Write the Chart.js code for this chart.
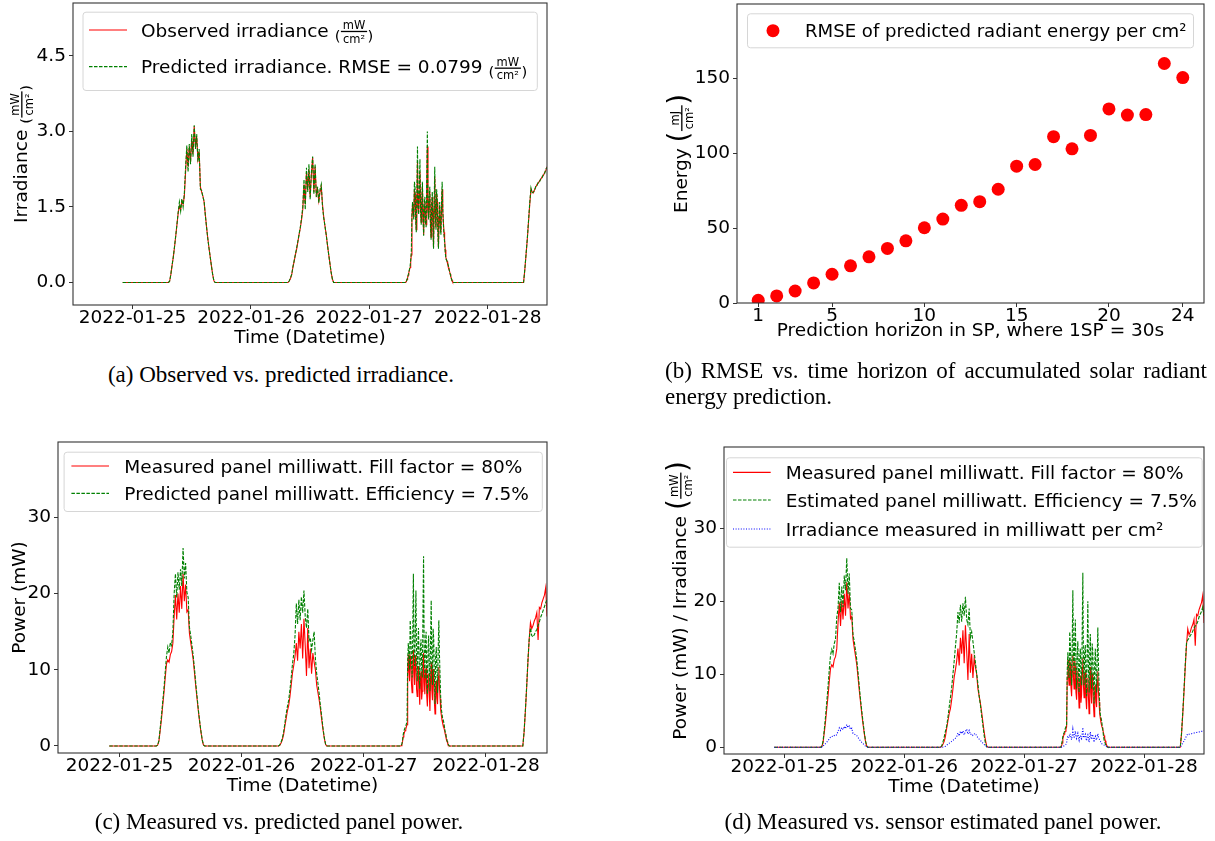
<!DOCTYPE html>
<html><head><meta charset="utf-8">
<script src="https://cdn.jsdelivr.net/npm/chart.js@4.4.1/dist/chart.umd.min.js"></script>
<style>
html,body{margin:0;padding:0;background:#fff}
body{width:1215px;height:841px;position:relative;overflow:hidden}
canvas{position:absolute;display:block}
.cap{position:absolute;font-family:'Liberation Serif','Times New Roman',serif;font-size:23px;line-height:26px;color:#000;white-space:nowrap}
.ctr{transform:translateX(-50%)}
.just{white-space:normal;text-align:justify;text-align-last:justify}
</style></head><body>
<canvas id="chartA" width="605" height="360" style="left:0;top:0"></canvas>
<canvas id="chartB" width="610" height="360" style="left:605px;top:0"></canvas>
<canvas id="chartC" width="605" height="390" style="left:0;top:420px"></canvas>
<canvas id="chartD" width="610" height="390" style="left:605px;top:420px"></canvas>
<div class="cap ctr" style="left:281px;top:362px">(a) Observed vs. predicted irradiance.</div>
<div class="cap just" style="left:665px;top:358px;width:542px">(b) RMSE vs. time horizon of accumulated solar radiant</div>
<div class="cap" style="left:665px;top:384px">energy prediction.</div>
<div class="cap ctr" style="left:279px;top:809px">(c) Measured vs. predicted panel power.</div>
<div class="cap ctr" style="left:943px;top:809px">(d) Measured vs. sensor estimated panel power.</div>
<script>
// ---------------- data ----------------
const timeTickHours = [0, 24, 48, 72];               // hours after 2022-01-25 00:00
const timeTickLabels = ['2022-01-25', '2022-01-26', '2022-01-27', '2022-01-28'];
// recorded samples: one night point, then one block per day (start hour, count, step in hours)
const segmentStartHours = [-2, 7.25, 31.25, 55.25, 79.25];
const segmentPointCounts = [1, 39, 39, 79, 20];
const segmentStepHours = [0.25, 0.25, 0.25, 0.125, 0.25];

const observedIrradiance = [0,
  0,0.02,0.15,0.33,0.5,0.7,0.92,1.15,1.38,1.52,1.45,1.62,1.55,1.72,2.2,2.65,2.3,2.7,2.4,2.85,2.55,3.1,2.7,2.9,2.45,2.6,1.9,1.8,1.72,1.6,1.35,1.1,0.88,0.68,0.5,0.32,0.15,0.03,0,
  0,0,0.03,0.08,0.15,0.3,0.42,0.55,0.66,0.8,0.95,1.08,1.25,1.45,1.95,1.55,2.2,1.85,2.25,1.7,2.15,2.48,1.8,2.3,1.75,1.85,1.62,1.8,1.9,1.55,1.3,1.12,0.95,0.75,0.56,0.38,0.2,0.07,0,
  0,0.01,0.02,0.06,0.1,0.15,0.2,0.25,0.3,0.42,0.55,1.3,1.55,1.4,1.3,1.85,1.75,1.3,1.05,1.6,2.4,1.5,1.4,1.8,2.2,1.45,1.2,1.6,1.9,1.35,
  0.95,1.5,1.6,1.25,1.15,1.9,2.7,1.45,1.3,1.65,1.8,1.2,0.9,1.5,1.7,1.25,0.7,1.45,2.1,1.35,1.1,1.75,1.6,1.1,0.7,1.3,1.5,1.15,1.0,1.5,
  1.85,1.4,1.2,1.0,0.85,0.65,0.5,0.46,0.42,0.36,0.3,0.26,0.22,0.17,0.12,0.08,0.04,0.01,0,
  0,0.25,0.55,0.85,1.2,1.55,1.85,1.8,1.78,1.85,1.9,1.95,1.98,2.02,2.05,2.1,2.12,2.18,2.22,2.3];
const predictedIrradiance = [0,
  0,0.02,0.16,0.34,0.5,0.71,0.93,1.16,1.4,1.6,1.42,1.66,1.5,1.78,2.3,2.72,2.2,2.75,2.35,2.95,2.5,3.12,2.65,2.95,2.4,2.65,1.85,1.83,1.7,1.62,1.33,1.1,0.87,0.68,0.5,0.32,0.15,0.03,0,
  0,0,0.03,0.09,0.16,0.31,0.43,0.56,0.68,0.82,0.96,1.1,1.28,1.5,2.05,1.45,2.28,1.8,2.35,1.65,2.2,2.5,1.75,2.35,1.7,1.9,1.58,1.85,1.95,1.5,1.28,1.12,0.95,0.75,0.56,0.38,0.2,0.07,0,
  0,0.01,0.02,0.06,0.1,0.15,0.21,0.26,0.32,0.45,0.6,1.35,1.6,1.45,1.25,2.0,1.9,1.3,1.0,1.7,2.7,1.5,1.35,1.9,2.45,1.4,1.15,1.65,2.0,1.3,
  0.93,1.55,1.7,1.2,1.1,2.0,3.0,1.5,1.25,1.7,1.9,1.15,0.85,1.55,1.8,1.2,0.67,1.5,2.3,1.3,1.05,1.85,1.7,1.0,0.67,1.35,1.6,1.1,0.95,1.6,
  2.0,1.45,1.15,0.95,0.8,0.6,0.47,0.45,0.42,0.38,0.34,0.28,0.22,0.17,0.12,0.08,0.04,0.01,0,
  0,0.26,0.56,0.86,1.22,1.58,1.88,1.78,1.8,1.83,1.92,1.93,2.0,2.0,2.07,2.08,2.15,2.16,2.25,2.28];
const measuredPower = [0,
  0,0.1,0.6,2.0,3.5,5.3,7.0,9.0,10.8,11.3,11.0,12.0,12.4,13.5,17.0,19.8,16.6,20.0,17.5,21.0,18.0,22.6,19.0,21.2,17.6,17.9,14.8,13.6,12.5,11.3,9.6,7.8,6.2,4.6,3.2,1.9,0.8,0.15,0,
  0,0.1,0.4,0.8,1.5,2.6,3.6,4.6,5.3,6.5,8.0,9.6,10.6,11.8,13.5,11.2,15.0,12.8,16.0,11.5,16.7,13.2,9.2,15.5,10.2,12.8,9.5,12.2,11.0,10.0,8.0,7.0,6.0,4.8,3.4,2.1,1.0,0.2,0,
  0,0.05,0.2,0.6,1.2,1.5,1.8,2.0,2.2,2.5,2.8,9.5,12.0,9.8,8.5,11.8,11.5,8.2,7.0,10.4,12.6,9.6,8.0,11.9,11.0,7.5,6.5,9.2,10.5,7.8,
  5.4,8.8,9.8,6.1,7.2,10.9,12.2,8.4,6.8,9.9,10.2,6.6,5.2,8.1,9.5,6.9,4.6,8.7,11.0,7.4,6.0,10.1,9.0,5.8,4.2,7.6,8.6,6.3,5.5,9.1,
  10.4,7.7,6.2,4.6,4.0,3.4,3.0,2.7,2.4,2.0,1.6,1.2,0.9,0.6,0.3,0.15,0.05,0,0,
  0,1.8,4.5,7.6,11.0,14.0,16.2,15.4,15.8,16.4,16.8,17.5,13.9,18.2,18.0,18.8,19.3,19.8,20.8,17.0];
const predictedPower = [0,
  0,0.1,0.7,2.3,3.9,5.8,7.6,9.8,11.8,13.0,12.2,13.6,13.2,15.0,20.0,22.6,19.5,22.8,20.5,23.2,21.0,26.0,22.0,24.0,20.2,19.5,15.6,14.5,13.2,11.8,10.1,8.2,6.5,4.8,3.3,2.0,0.9,0.15,0,
  0,0.15,0.5,1.0,1.8,3.0,4.2,5.2,6.0,7.4,9.0,10.8,12.1,14.5,18.7,16.0,19.2,16.5,19.6,17.5,20.4,17.0,15.5,18.0,13.8,14.2,12.6,13.9,15.0,11.5,9.5,8.2,6.8,5.2,3.8,2.3,1.1,0.25,0,
  0,0.1,0.3,0.8,1.5,1.9,2.2,2.4,2.6,2.9,3.2,11.0,13.5,11.8,10.0,16.5,14.5,11.2,9.0,14.8,22.6,12.4,10.5,15.2,20.4,11.6,8.5,13.4,15.5,10.8,
  7.5,12.9,14.0,10.2,9.0,16.8,24.9,12.1,8.8,13.6,15.0,9.4,6.8,12.5,14.5,10.3,7.2,13.8,19.1,11.0,8.0,15.4,14.0,9.1,5.5,11.7,13.0,9.6,7.0,12.8,
  16.5,11.9,9.0,6.1,4.8,4.2,3.6,3.4,3.0,2.4,1.9,1.5,1.1,0.7,0.4,0.2,0.05,0,0,
  0,1.9,4.7,7.8,11.2,14.0,15.5,14.5,14.3,14.6,15.0,15.3,15.8,16.3,16.9,17.3,17.8,18.3,18.8,19.2];
const estimatedPower = [0,
  0,0.1,0.8,2.4,4.2,6.2,8.3,10.6,12.6,13.4,12.8,14.2,14.8,17.8,19.0,22.5,18.5,22.0,19.2,23.5,21.5,25.9,21.0,23.8,19.0,18.8,15.4,14.5,13.3,12.0,10.3,8.4,6.6,5.0,3.5,2.1,0.9,0.15,0,
  0,0.2,0.7,1.4,2.2,2.9,4.1,5.5,6.8,8.2,10.0,11.8,13.8,15.6,18.5,17.0,19.5,17.2,19.7,18.0,20.6,17.5,16.8,19.0,15.0,15.8,14.5,13.0,11.6,10.1,8.7,7.0,5.8,4.3,3.0,1.6,0.6,0.05,0,
  0,0.1,0.4,0.9,1.5,1.8,2.0,2.3,2.6,2.8,3.0,10.5,13.0,11.2,9.5,15.8,14.0,10.9,8.5,14.2,21.5,12.0,10.0,14.6,17.5,11.1,8.0,12.7,14.5,10.4,
  7.5,12.3,13.5,9.8,8.5,15.9,23.9,11.6,8.5,13.1,14.0,9.2,7.0,13.4,20.0,10.8,7.5,12.6,15.5,10.4,8.0,14.2,13.0,8.9,6.0,11.4,13.5,9.7,7.5,12.4,
  16.4,11.3,8.5,5.6,4.5,4.0,3.7,3.0,2.4,1.6,1.0,0.7,0.5,0.25,0.1,0.03,0,0,0,
  0,1.9,4.8,8.0,11.4,14.3,14.7,14.9,15.3,15.5,15.9,16.3,16.6,16.8,17.2,17.8,18.2,18.6,19.2,18.0];

const horizons = [1,2,3,4,5,6,7,8,9,10,11,12,13,14,15,16,17,18,19,20,21,22,23,24];
const rmseEnergy = [1.8,4.7,8,13.4,19.2,24.8,30.8,36.4,41.5,50.2,56,65.2,67.6,75.9,91.3,92.4,111,102.9,111.8,129.5,125.4,125.7,159.8,150.4];
const horizonTicks = [1,5,10,15,20,24];

// time stamps of the recorded samples
const hours = [];
segmentStartHours.forEach((s, k) => { for (let i = 0; i < segmentPointCounts[k]; i++) hours.push(s + i * segmentStepHours[k]); });
const pts = arr => arr.map((v, i) => ({x: hours[i], y: v}));

// ---------------- styling helpers ----------------
const FAM = "'DejaVu Sans'";
const FS = 18.5;
Chart.defaults.font.family = FAM;
Chart.defaults.color = '#000';

function setFont(ctx, s){ ctx.font = s + 'px ' + FAM; }
function drawRich(ctx, x, baseline, parts, base, draw){
  for (const p of parts){
    if (p.t != null){
      setFont(ctx, base);
      if (draw) ctx.fillText(p.t, x, baseline);
      x += ctx.measureText(p.t).width;
    } else {
      const fs = base * 0.62;
      const bar = baseline - 0.28 * base;
      const ps = p.big ? base * 1.5 : base * 0.8;
      const pb = p.big ? bar - 0.12 * base + 0.314 * ps : baseline + 0.22 * base;
      setFont(ctx, ps);
      const pw = ctx.measureText('(').width;
      if (draw) ctx.fillText('(', x, pb);
      x += pw + 0.5;
      setFont(ctx, fs);
      const wn = ctx.measureText(p.frac[0]).width, wd = ctx.measureText(p.frac[1]).width;
      const w = Math.max(wn, wd) + 0.2 * base;
      if (draw){
        ctx.fillText(p.frac[0], x + (w - wn) / 2, bar - 0.14 * base);
        ctx.fillText(p.frac[1], x + (w - wd) / 2, bar + 0.6 * base);
        ctx.fillRect(x, bar - 0.65, w, 1.3);
      }
      x += w + 0.5;
      setFont(ctx, ps);
      if (draw) ctx.fillText(')', x, pb);
      x += pw;
    }
  }
  return x;
}

// page-space decorations per canvas
const decor = {
  chartA: { ox:0, oy:0,
    legend:{ box:[82.5,11.7,536.8,90], sx:[89,127], tx:141, rows:[
      {y:30, kind:'line', color:'#ff0000', dash:[], parts:[{t:'Observed irradiance '},{frac:['mW','cm²']}]},
      {y:66.7, kind:'line', color:'#008000', dash:[3.5,1.5], parts:[{t:'Predicted irradiance. RMSE = 0.0799 '},{frac:['mW','cm²']}]} ]},
    ytitle:{ x:27, y:154, parts:[{t:'Irradiance '},{frac:['mW','cm²']}] } },
  chartB: { ox:605, oy:0,
    legend:{ box:[747,13.3,1193,47.3], sx:[760,786], tx:805, rows:[
      {y:30.7, kind:'marker', color:'#ff0000', size:18.1, parts:[{t:'RMSE of predicted radiant energy per cm²'}]} ]},
    ytitle:{ x:687, y:153.5, parts:[{t:'Energy '},{frac:['mJ','cm²'], big:true}] } },
  chartC: { ox:0, oy:420,
    legend:{ box:[63.6,451.7,541.8,511], sx:[71.4,109], tx:124.3, rows:[
      {y:466, kind:'line', color:'#ff0000', dash:[], parts:[{t:'Measured panel milliwatt. Fill factor = 80%'}]},
      {y:493.3, kind:'line', color:'#008000', dash:[3.5,1.5], parts:[{t:'Predicted panel milliwatt. Efficiency = 7.5%'}]} ]},
    ytitle:{ x:25, y:597.5, parts:[{t:'Power (mW)'}] } },
  chartD: { ox:605, oy:420,
    legend:{ box:[726,457.3,1201.7,546.7], sx:[733,770.7], tx:785.7, rows:[
      {y:472.3, kind:'line', color:'#ff0000', dash:[], parts:[{t:'Measured panel milliwatt. Fill factor = 80%'}]},
      {y:500, kind:'line', color:'#008000', dash:[3.5,1.5], parts:[{t:'Estimated panel milliwatt. Efficiency = 7.5%'}]},
      {y:529, kind:'line', color:'#0000ff', dash:[1,1.6], parts:[{t:'Irradiance measured in milliwatt per cm²'}]} ]},
    ytitle:{ x:686, y:600.5, parts:[{t:'Power (mW) / Irradiance '},{frac:['mW','cm²'], big:true}] } }
};

const mplPlugin = {
  id: 'mplDecor',
  afterDatasetsDraw(chart){
    const a = chart.chartArea, ctx = chart.ctx;
    ctx.save();
    ctx.strokeStyle = '#333'; ctx.lineWidth = 1.1; ctx.setLineDash([]);
    ctx.strokeRect(a.left, a.top, a.right - a.left, a.bottom - a.top);
    ctx.restore();
  },
  afterDraw(chart){
    const d = decor[chart.canvas.id]; if (!d) return;
    const ctx = chart.ctx;
    ctx.save();
    ctx.translate(-d.ox, -d.oy);
    ctx.textBaseline = 'alphabetic'; ctx.textAlign = 'left';
    const L = d.legend, [l,t,r,b] = L.box;
    ctx.beginPath(); ctx.roundRect(l + 0.5, t + 0.5, r - l, b - t, 3);
    ctx.fillStyle = 'rgba(255,255,255,0.8)'; ctx.fill();
    ctx.strokeStyle = '#d6d6d6'; ctx.lineWidth = 1; ctx.stroke();
    for (const row of L.rows){
      if (row.kind === 'marker'){
        ctx.beginPath(); ctx.arc((L.sx[0] + L.sx[1]) / 2, row.y, 6.5, 0, Math.PI * 2);
        ctx.fillStyle = row.color; ctx.fill();
      } else {
        ctx.beginPath(); ctx.setLineDash(row.dash); ctx.lineWidth = 1.2;
        ctx.moveTo(L.sx[0], row.y); ctx.lineTo(L.sx[1], row.y);
        ctx.strokeStyle = row.color; ctx.stroke(); ctx.setLineDash([]);
      }
      ctx.fillStyle = '#000';
      const sz = row.size || FS;
      drawRich(ctx, L.tx, row.y + 0.36 * sz, row.parts, sz, true);
    }
    const Y = d.ytitle;
    const w = drawRich(ctx, 0, 0, Y.parts, FS, false);
    ctx.save();
    ctx.translate(Y.x, Y.y); ctx.rotate(-Math.PI / 2);
    ctx.fillStyle = '#000';
    drawRich(ctx, -w / 2, 0, Y.parts, FS, true);
    ctx.restore();
    ctx.restore();
  }
};
Chart.register(mplPlugin);

const tickFont = {family: FAM, size: FS, lineHeight: 1};
const gridStyle = {display:true, drawOnChartArea:false, drawTicks:true, tickLength:4, tickWidth:1, tickColor:'#333'};

function xAxis(min, max, tickVals, labelFn, title, xH){
  return { type:'linear', min, max,
    afterBuildTicks: s => { s.ticks = tickVals.map(v => ({value:v})); },
    afterFit: s => { s.height = xH; s.paddingLeft = 0; s.paddingRight = 0; },
    ticks: { font: tickFont, color:'#000', padding:0, maxRotation:0, minRotation:0, autoSkip:false, callback: labelFn },
    grid: gridStyle, border:{display:false},
    title: { display:true, text:title, font:{family:FAM, size:FS, lineHeight:1}, color:'#000', padding:0 } };
}
function yAxis(min, max, tickVals, labelFn, yW){
  return { type:'linear', min, max,
    afterBuildTicks: s => { s.ticks = tickVals.map(v => ({value:v})); },
    afterFit: s => { s.width = yW; s.paddingTop = 0; s.paddingBottom = 0; },
    ticks: { font: tickFont, color:'#000', padding:3, autoSkip:false, callback: labelFn },
    grid: gridStyle, border:{display:false} };
}
function baseOptions(pad, xs, ys){
  return { responsive:false, animation:false, devicePixelRatio:1,
    layout:{ padding:pad, autoPadding:false },
    plugins:{ legend:{display:false}, tooltip:{enabled:false} },
    scales:{ x:xs, y:ys } };
}
const timeLabel = (v, i) => timeTickLabels[i];
const lineDs = (label, arr, color, dash, order) => ({ label, data: pts(arr), borderColor: color, borderDash: dash,
  borderWidth: 1.1, pointRadius: 0, fill: false, tension: 0, order, clip: 0 });

new Chart(document.getElementById('chartA'), {
  type:'line',
  data:{ datasets:[
    lineDs('Observed irradiance', observedIrradiance, '#ff0000', [], 1),
    lineDs('Predicted irradiance', predictedIrradiance, '#008000', [3.5,1.5], 0) ]},
  options: baseOptions({left:0, top:3, right:58, bottom:12.75},
    xAxis(-12.07, 84, timeTickHours, timeLabel, 'Time (Datetime)', 42.25),
    yAxis(-0.446, 5.55, [0,1.5,3,4.5], v => v.toFixed(1), 73))
});
new Chart(document.getElementById('chartB'), {
  type:'scatter',
  data:{ datasets:[{ label:'RMSE of predicted radiant energy per cm²',
    data: horizons.map((h, i) => ({x:h, y:rmseEnergy[i]})),
    backgroundColor:'#ff0000', borderWidth:0, pointRadius:6.5, pointHoverRadius:6.5, clip:0 }]},
  options: baseOptions({left:0, top:4, right:11, bottom:19.75},
    xAxis(-0.15, 25.15, horizonTicks, v => String(v), 'Prediction horizon in SP, where 1SP = 30s', 37.25),
    yAxis(0, 199.5, [0,50,100,150], v => String(v), 132))
});
new Chart(document.getElementById('chartC'), {
  type:'line',
  data:{ datasets:[
    lineDs('Measured panel milliwatt', measuredPower, '#ff0000', [], 1),
    lineDs('Predicted panel milliwatt', predictedPower, '#008000', [3.5,1.5], 0) ]},
  options: baseOptions({left:0, top:22, right:58, bottom:14.75},
    xAxis(-12.07, 84, timeTickHours, timeLabel, 'Time (Datetime)', 42.25),
    yAxis(-0.92, 39.9, [0,10,20,30], v => String(v), 58))
});
new Chart(document.getElementById('chartD'), {
  type:'line',
  data:{ datasets:[
    lineDs('Measured panel milliwatt', measuredPower, '#ff0000', [], 2),
    lineDs('Estimated panel milliwatt', estimatedPower, '#008000', [3.5,1.5], 1),
    lineDs('Irradiance measured', observedIrradiance, '#0000ff', [1,1.6], 0) ]},
  options: baseOptions({left:0, top:27, right:11, bottom:13.75},
    xAxis(-12.07, 84, timeTickHours, timeLabel, 'Time (Datetime)', 42.25),
    yAxis(-0.92, 41.1, [0,10,20,30], v => String(v), 119))
});
</script>
</body></html>
